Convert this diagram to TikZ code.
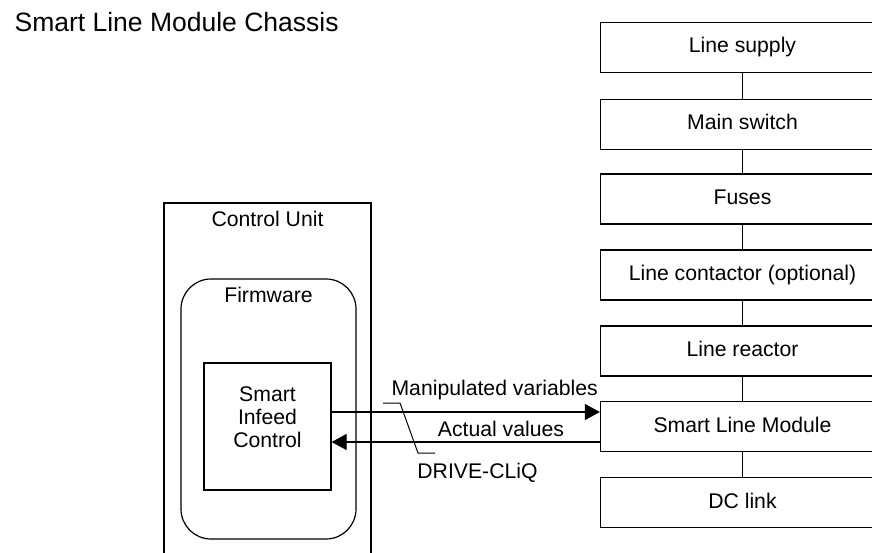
\documentclass[tikz,border=0pt]{standalone}
\usepackage{fontspec}
\setmainfont{Liberation Sans}
\usetikzlibrary{arrows.meta}
\begin{document}
\begin{tikzpicture}[x=1pt,y=-1pt,
  line width=1.2pt,
  txt/.style={font=\fontsize{21.2}{22.7}\selectfont, inner sep=0pt},
  chainbox/.style={draw, rectangle, minimum width=284pt, minimum height=50pt,
    font=\fontsize{21.2}{22.7}\selectfont, text height=15.2pt, text depth=4.4pt},
  plainbox/.style={draw, rectangle, inner sep=0pt},
  link/.style={draw},
  sig/.style={-{Triangle[length=15pt,width=16pt]}},
  leader/.style={line width=1pt}]
\useasboundingbox (0,0) rectangle (872,552);
\clip (0,0) rectangle (872,552);

% title
\node[txt, font=\fontsize{26.5}{28}\selectfont, anchor=base west] (title) at (14,31.7) {Smart Line Module Chassis};

% power chain on the right
\node[chainbox] (ls)  at (742.5,47.3)  {Line supply};
\node[chainbox] (ms)  at (742.5,124.5) {Main switch};
\node[chainbox] (fu)  at (742.5,199)   {Fuses};
\node[chainbox] (lc)  at (742.5,275)   {Line contactor (optional)};
\node[chainbox] (lr)  at (742.5,351)   {Line reactor};
\node[chainbox] (slm) at (742.5,426.7) {Smart Line Module};
\node[chainbox] (dc)  at (742.5,502.8) {DC link};

\draw (ls) -- (ms);
\draw (ms) -- (fu);
\draw (fu) -- (lc);
\draw (lc) -- (lr);
\draw (lr) -- (slm);
\draw (slm) -- (dc);

% control unit with firmware and control block
\node[plainbox, minimum width=207pt, minimum height=397pt] (cu) at (267.5,401.5) {};
\node[txt, anchor=base] (cutxt) at (267.5,226.7) {Control Unit};
\node[plainbox, rounded corners=30pt, minimum width=175pt, minimum height=260pt] (fw) at (268.5,409) {};
\node[txt, anchor=base] (fwtxt) at (268.5,302.3) {Firmware};
\node[plainbox, minimum width=127pt, minimum height=127pt] (sic) at (267.5,426.5) {};
\node[txt, align=center] (sictxt) at (267.5,417) {Smart\\Infeed\\Control};

% DRIVE-CLiQ signals
\draw[sig] (sic.east |- 0,412) -- (slm.west |- 0,412);
\draw[sig] (slm.west |- 0,442) -- (sic.east |- 0,442);
\node[txt, anchor=base] (mv) at (494.7,395.7) {Manipulated variables};
\node[txt, anchor=base] (av) at (501,436) {Actual values};
\node[txt, anchor=base] (dq) at (477.5,478.3) {DRIVE-CLiQ};

\coordinate (l1) at (383,403);
\coordinate (l2) at (400,403);
\coordinate (l3) at (418,453);
\coordinate (l4) at (435,453);
\draw[leader] (l1) -- (l2) -- (l3) -- (l4);
\end{tikzpicture}
\end{document}
